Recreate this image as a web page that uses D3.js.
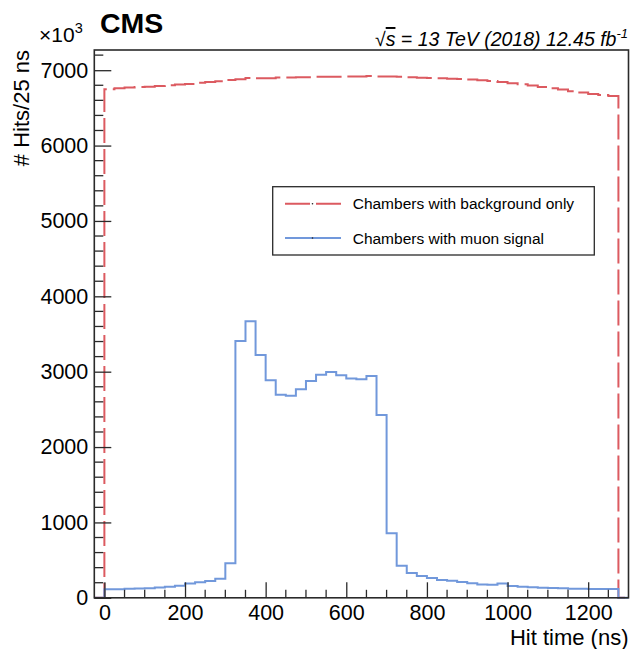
<!DOCTYPE html>
<html>
<head>
<meta charset="utf-8">
<script src="https://cdn.jsdelivr.net/npm/d3@7"></script>
<style>
  html, body { margin: 0; padding: 0; background: #fff; }
  svg { display: block; }
  text { font-family: "Liberation Sans", Arial, Helvetica, sans-serif; fill: #000; }
</style>
</head>
<body>
<svg id="chart" width="631" height="649"></svg>
<script>
// ---------------- data ----------------
const binWidth = 25;          // ns per bin
const firstBinStart = 0;      // first filled bin starts at 0 ns
// Chambers with muon signal (axis units, x10^3 hits / 25 ns)
const muonSignal = [
  115, 115, 119, 124, 128, 137, 146, 159,
  190, 206, 224, 253,
  457, 3408, 3669, 3222, 2886, 2695, 2682, 2767, 2877, 2961, 2996, 2952, 2908, 2899, 2943, 2426,
  858, 424, 330, 289, 263, 236, 227, 210, 192, 175, 172, 190,
  155, 148, 139, 134, 130, 126, 121, 121, 117, 117, 117
];
// Chambers with background only
const backgroundOnly = [
  6747, 6760, 6769, 6778, 6782, 6791, 6800, 6809, 6818, 6835, 6845, 6853, 6871, 6880, 6898, 6893,
  6893, 6902, 6902, 6905, 6908, 6912, 6912, 6912, 6915, 6918, 6922, 6918, 6915, 6912, 6905, 6900,
  6895, 6893, 6888, 6884, 6875, 6866, 6858, 6845, 6827, 6813, 6796, 6778, 6760, 6743, 6721, 6703, 6685, 6672, 6659
];
const xTickValues = [0, 200, 400, 600, 800, 1000, 1200];
const yTickValues = [0, 1000, 2000, 3000, 4000, 5000, 6000, 7000];
const xDomain = [-25, 1300];
const yDomain = [0, 7268];
const legendLabels = ["Chambers with background only", "Chambers with muon signal"];

// ---------------- layout ----------------
const svg = d3.select("#chart");
const frame = { left: 94.3, right: 628.5, top: 50, bottom: 597.8 };
const colRed = "#dc5a60";
const colBlue = "#7198db";
const axisCol = "#2a2a2a";
const labelSize = 21.5;
const titleSize = 22;

const x = d3.scaleLinear().domain(xDomain).range([frame.left, frame.right]);
const y = d3.scaleLinear().domain(yDomain).range([frame.bottom, frame.top]);

function histPath(values) {
  const pts = [[xDomain[0], 0], [firstBinStart, 0]];
  values.forEach((v, i) => {
    const x0 = firstBinStart + i * binWidth;
    pts.push([x0, v], [x0 + binWidth, v]);
  });
  const end = firstBinStart + values.length * binWidth;
  pts.push([end, 0], [xDomain[1], 0]);
  return d3.line().x(d => x(d[0])).y(d => y(d[1]))(pts);
}

// ---------------- histograms ----------------
svg.append("path")
  .attr("d", histPath(backgroundOnly))
  .attr("fill", "none")
  .attr("stroke", colRed)
  .attr("stroke-width", 2)
  .attr("stroke-dasharray", "25,6");

svg.append("path")
  .attr("d", histPath(muonSignal))
  .attr("fill", "none")
  .attr("stroke", colBlue)
  .attr("stroke-width", 2);

// ---------------- axes ----------------
const xMinor = d3.range(0, 1300, 50).filter(v => !xTickValues.includes(v));
const yMinor = d3.range(0, 7268, 200).filter(v => !yTickValues.includes(v));

const gx = svg.append("g").attr("transform", `translate(0,${frame.bottom})`)
  .call(d3.axisBottom(x).tickValues(xTickValues).tickFormat(d3.format("d"))
    .tickSizeInner(-15.5).tickSizeOuter(0).tickPadding(7));
gx.select(".domain").remove();
gx.selectAll(".tick line").attr("stroke", axisCol).attr("stroke-width", 1.3);
gx.selectAll(".tick text").attr("font-size", labelSize).style("font-family", "Liberation Sans, Arial, sans-serif");
svg.append("g").selectAll("line").data(xMinor).join("line")
  .attr("x1", d => x(d)).attr("x2", d => x(d))
  .attr("y1", frame.bottom).attr("y2", frame.bottom - 8)
  .attr("stroke", axisCol).attr("stroke-width", 1.3);

const gy = svg.append("g").attr("transform", `translate(${frame.left},0)`)
  .call(d3.axisLeft(y).tickValues(yTickValues).tickFormat(d3.format("d"))
    .tickSizeInner(-17).tickSizeOuter(0).tickPadding(6));
gy.select(".domain").remove();
gy.selectAll(".tick line").attr("stroke", axisCol).attr("stroke-width", 1.3);
gy.selectAll(".tick text").attr("font-size", labelSize).style("font-family", "Liberation Sans, Arial, sans-serif");
svg.append("g").selectAll("line").data(yMinor).join("line")
  .attr("x1", frame.left).attr("x2", frame.left + 9)
  .attr("y1", d => y(d)).attr("y2", d => y(d))
  .attr("stroke", axisCol).attr("stroke-width", 1.3);

// frame
svg.append("rect")
  .attr("x", frame.left).attr("y", frame.top)
  .attr("width", frame.right - frame.left).attr("height", frame.bottom - frame.top)
  .attr("fill", "none").attr("stroke", axisCol).attr("stroke-width", 1.6);

// axis titles
svg.append("text")
  .attr("x", frame.right).attr("y", 645)
  .attr("text-anchor", "end").attr("font-size", titleSize)
  .text("Hit time (ns)");

svg.append("text")
  .attr("transform", `translate(29,${frame.top}) rotate(-90)`)
  .attr("text-anchor", "end").attr("font-size", titleSize)
  .text("# Hits/25 ns");

// x10^3
const mult = svg.append("text").attr("x", 39).attr("y", 42).attr("font-size", 21);
mult.append("tspan").text("×10");
mult.append("tspan").attr("font-size", 14.5).attr("dy", -9).text("3");

// CMS
svg.append("text").attr("x", 100).attr("y", 33)
  .attr("font-size", 28.5).attr("font-weight", "bold").text("CMS");

// lumi text
const lumi = svg.append("text")
  .attr("x", 628).attr("y", 46)
  .attr("text-anchor", "end").attr("font-size", 19.5).attr("font-style", "italic");
lumi.append("tspan").attr("font-style", "normal").text("√");
lumi.append("tspan").style("text-decoration", "overline").text("s");
lumi.append("tspan").text(" = 13 TeV (2018) 12.45 fb");
lumi.append("tspan").attr("font-size", 13).attr("dy", -8).text("-1");

// ---------------- legend ----------------
const leg = svg.append("g");
leg.append("rect")
  .attr("x", 272.7).attr("y", 186.7).attr("width", 321.6).attr("height", 68.3)
  .attr("fill", "#fff").attr("stroke", axisCol).attr("stroke-width", 1.3);

const legItems = [
  { label: legendLabels[0], color: colRed, dash: "25,6", yy: 203.7 },
  { label: legendLabels[1], color: colBlue, dash: null, yy: 238 }
];
legItems.forEach(it => {
  const ln = leg.append("line")
    .attr("x1", 285).attr("x2", 341).attr("y1", it.yy).attr("y2", it.yy)
    .attr("stroke", it.color).attr("stroke-width", 2);
  if (it.dash) ln.attr("stroke-dasharray", it.dash);
  leg.append("circle").attr("cx", 312.5).attr("cy", it.yy).attr("r", 0.8).attr("fill", "#222");
  leg.append("text").attr("x", 352.7).attr("y", it.yy + 5.5)
    .attr("font-size", 15.5).text(it.label);
});
</script>
</body>
</html>
